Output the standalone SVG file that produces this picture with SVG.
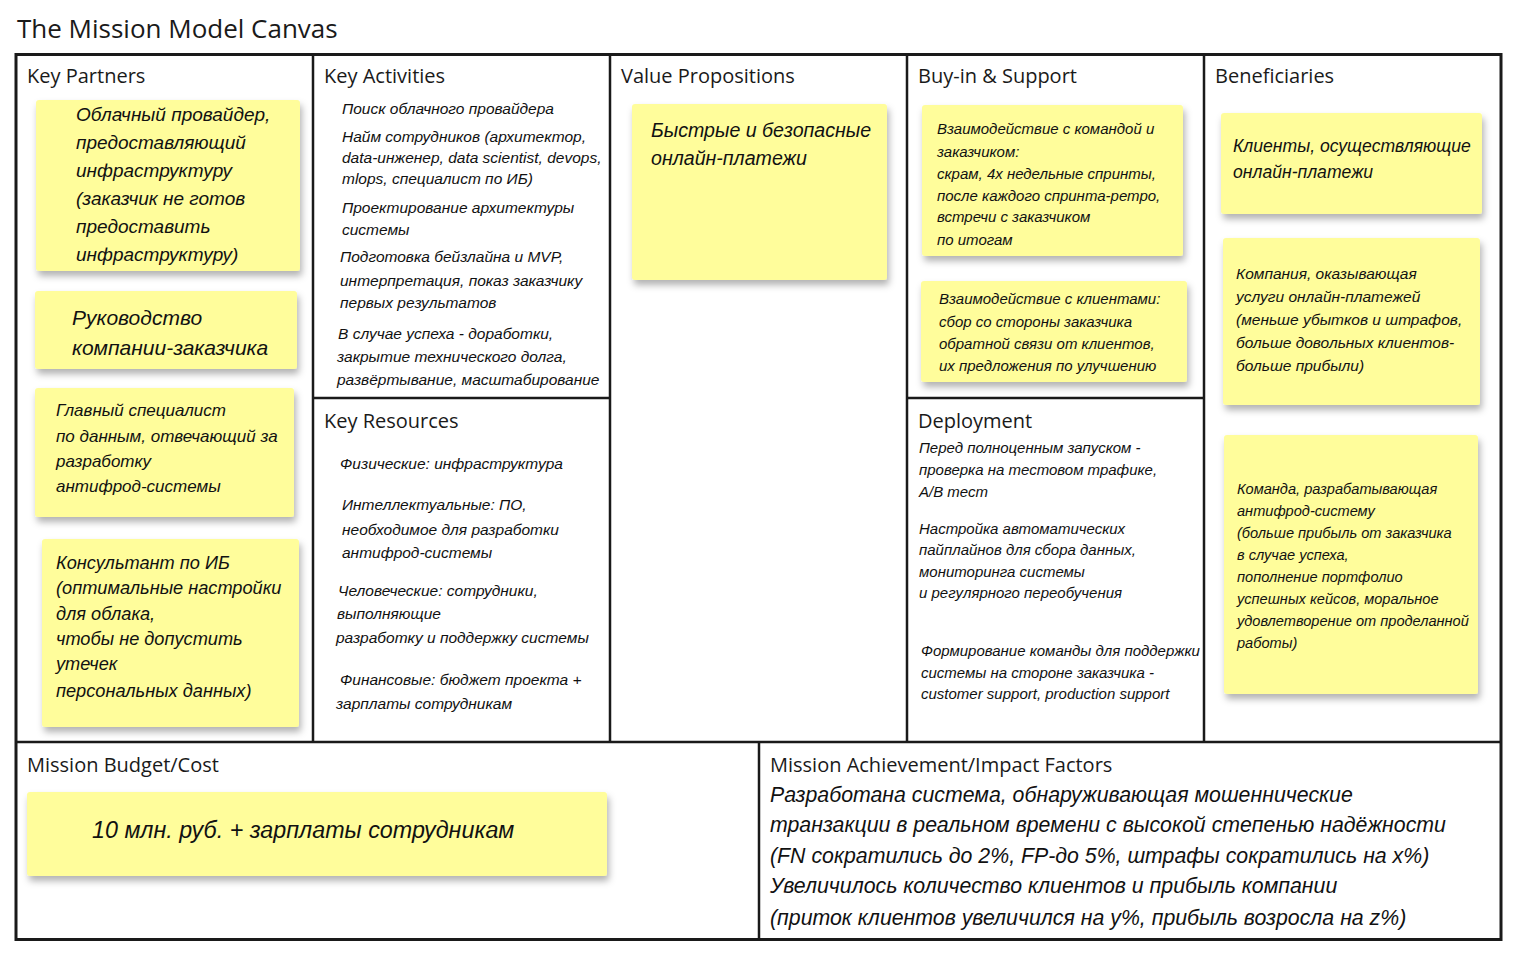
<svg xmlns="http://www.w3.org/2000/svg" width="1517" height="956" viewBox="0 0 1517 956">
<defs>
<filter id="sh" x="-10%" y="-10%" width="125%" height="130%">
<feDropShadow dx="2" dy="5" stdDeviation="3.5" flood-color="#000" flood-opacity="0.3"/>
</filter>
<style>
.bg{fill:#fff}
.frame{fill:none;stroke:#1a1a1a;stroke-width:3}
.div{stroke:#1a1a1a;stroke-width:2.5}
.title{font-family:"Open Sans","Noto Sans",sans-serif;font-size:26px;fill:#1a1a1a}
.hd{font-family:"Open Sans","Noto Sans",sans-serif;font-size:20px;fill:#1a1a1a}
.note{fill:#fffd9b;filter:url(#sh)}
.hw{font-family:"Liberation Sans",Arial,sans-serif;font-style:italic;fill:#111}
.s21{font-size:21px}
.s19{font-size:19px}
.s20{font-size:19.6px}
.s18{font-size:18.2px}
.s17{font-size:17px}
.s176{font-size:17.6px}
.s16{font-size:15.5px}
.s15{font-size:15px}
.s146{font-size:14.6px}
.s24{font-size:23.3px}
</style>
</defs>
<rect class="bg" x="0" y="0" width="1517" height="956"/>
<text class="title" x="17" y="38">The Mission Model Canvas</text>

<g id="grid">
<rect class="frame" x="16" y="54.5" width="1485" height="885"/>
<line class="div" x1="313" y1="54" x2="313" y2="742"/>
<line class="div" x1="610" y1="54" x2="610" y2="742"/>
<line class="div" x1="907" y1="54" x2="907" y2="742"/>
<line class="div" x1="1204" y1="54" x2="1204" y2="742"/>
<line class="div" x1="313" y1="398" x2="610" y2="398"/>
<line class="div" x1="907" y1="398" x2="1204" y2="398"/>
<line class="div" x1="16" y1="742" x2="1501" y2="742"/>
<line class="div" x1="759" y1="742" x2="759" y2="940"/>
</g>

<g id="headers">
<text class="hd" x="27" y="83">Key Partners</text>
<text class="hd" x="324" y="83">Key Activities</text>
<text class="hd" x="621" y="83">Value Propositions</text>
<text class="hd" x="918" y="83">Buy-in &amp; Support</text>
<text class="hd" x="1215" y="83">Beneficiaries</text>
<text class="hd" x="324" y="428">Key Resources</text>
<text class="hd" x="918" y="428">Deployment</text>
<text class="hd" x="27" y="772">Mission Budget/Cost</text>
<text class="hd" x="770" y="772">Mission Achievement/Impact Factors</text>
</g>

<g id="kp-1">
<rect class="note" x="36" y="100" width="264" height="171" rx="3"/>
<text class="hw s19"><tspan x="76" y="121">Облачный провайдер,</tspan><tspan x="76" y="149">предоставляющий</tspan><tspan x="76" y="177">инфраструктуру</tspan><tspan x="76" y="205">(заказчик не готов</tspan><tspan x="76" y="233">предоставить</tspan><tspan x="76" y="261">инфраструктуру)</tspan></text>
</g>
<g id="kp-2">
<rect class="note" x="35" y="291" width="262" height="78" rx="3"/>
<text class="hw s21"><tspan x="72" y="325">Руководство</tspan><tspan x="72" y="355">компании-заказчика</tspan></text>
</g>
<g id="kp-3">
<rect class="note" x="35" y="388" width="259" height="129" rx="3"/>
<text class="hw s17"><tspan x="56" y="416">Главный специалист</tspan><tspan x="56" y="442">по данным, отвечающий за</tspan><tspan x="56" y="467">разработку</tspan><tspan x="56" y="492">антифрод-системы</tspan></text>
</g>
<g id="kp-4">
<rect class="note" x="42" y="539" width="257" height="188" rx="3"/>
<text class="hw s18"><tspan x="56" y="569">Консультант по ИБ</tspan><tspan x="56" y="594">(оптимальные настройки</tspan><tspan x="56" y="620">для облака,</tspan><tspan x="56" y="645">чтобы не допустить</tspan><tspan x="56" y="670">утечек</tspan><tspan x="56" y="697">персональных данных)</tspan></text>
</g>

<g id="key-activities">
<text class="hw s16"><tspan x="342" y="114">Поиск облачного провайдера</tspan><tspan x="342" y="142">Найм сотрудников (архитектор,</tspan><tspan x="342" y="163">data-инженер, data scientist, devops,</tspan><tspan x="342" y="184">mlops, специалист по ИБ)</tspan><tspan x="342" y="213">Проектирование архитектуры</tspan><tspan x="342" y="235">системы</tspan><tspan x="340" y="262">Подготовка бейзлайна и MVP,</tspan><tspan x="340" y="286">интерпретация, показ заказчику</tspan><tspan x="340" y="308">первых результатов</tspan><tspan x="338" y="339">В случае успеха - доработки,</tspan><tspan x="337" y="362">закрытие технического долга,</tspan><tspan x="337" y="385">развёртывание, масштабирование</tspan></text>
</g>

<g id="key-resources">
<text class="hw s16"><tspan x="340" y="469">Физические: инфраструктура</tspan><tspan x="342" y="510">Интеллектуальные: ПО,</tspan><tspan x="342" y="535">необходимое для разработки</tspan><tspan x="342" y="558">антифрод-системы</tspan><tspan x="338" y="596">Человеческие: сотрудники,</tspan><tspan x="337" y="619">выполняющие</tspan><tspan x="336" y="643">разработку и поддержку системы</tspan><tspan x="340" y="685">Финансовые: бюджет проекта +</tspan><tspan x="336" y="709">зарплаты сотрудникам</tspan></text>
</g>

<g id="vp-1">
<rect class="note" x="632" y="104" width="255" height="176" rx="3"/>
<text class="hw s20"><tspan x="651" y="137">Быстрые и безопасные</tspan><tspan x="651" y="165">онлайн-платежи</tspan></text>
</g>

<g id="bs-1">
<rect class="note" x="922" y="105" width="261" height="151" rx="3"/>
<text class="hw s15"><tspan x="937" y="134">Взаимодействие с командой и</tspan><tspan x="937" y="157">заказчиком:</tspan><tspan x="937" y="179">скрам, 4х недельные спринты,</tspan><tspan x="937" y="201">после каждого спринта-ретро,</tspan><tspan x="937" y="222">встречи с заказчиком</tspan><tspan x="937" y="245">по итогам</tspan></text>
</g>
<g id="bs-2">
<rect class="note" x="921" y="281" width="266" height="101" rx="3"/>
<text class="hw s15"><tspan x="939" y="304">Взаимодействие с клиентами:</tspan><tspan x="939" y="327">сбор со стороны заказчика</tspan><tspan x="939" y="349">обратной связи от клиентов,</tspan><tspan x="939" y="371">их предложения по улучшению</tspan></text>
</g>

<g id="deployment">
<text class="hw s15"><tspan x="919" y="453">Перед полноценным запуском -</tspan><tspan x="919" y="475">проверка на тестовом трафике,</tspan><tspan x="919" y="497">A/B тест</tspan><tspan x="919" y="534">Настройка автоматических</tspan><tspan x="919" y="555">пайплайнов для сбора данных,</tspan><tspan x="919" y="577">мониторинга системы</tspan><tspan x="919" y="598">и регулярного переобучения</tspan><tspan x="921" y="656">Формирование команды для поддержки</tspan><tspan x="921" y="678">системы на стороне заказчика -</tspan><tspan x="921" y="699">customer support, production support</tspan></text>
</g>

<g id="ben-1">
<rect class="note" x="1221" y="113" width="261" height="101" rx="3"/>
<text class="hw s176"><tspan x="1233" y="152">Клиенты, осуществляющие</tspan><tspan x="1233" y="178">онлайн-платежи</tspan></text>
</g>
<g id="ben-2">
<rect class="note" x="1223" y="238" width="257" height="167" rx="3"/>
<text class="hw s16"><tspan x="1236" y="279">Компания, оказывающая</tspan><tspan x="1236" y="302">услуги онлайн-платежей</tspan><tspan x="1236" y="325">(меньше убытков и штрафов,</tspan><tspan x="1236" y="348">больше довольных клиентов-</tspan><tspan x="1236" y="371">больше прибыли)</tspan></text>
</g>
<g id="ben-3">
<rect class="note" x="1224" y="435" width="254" height="259" rx="3"/>
<text class="hw s146"><tspan x="1237" y="494">Команда, разрабатывающая</tspan><tspan x="1237" y="516">антифрод-систему</tspan><tspan x="1237" y="538">(больше прибыль от заказчика</tspan><tspan x="1237" y="560">в случае успеха,</tspan><tspan x="1237" y="582">пополнение портфолио</tspan><tspan x="1237" y="604">успешных кейсов, моральное</tspan><tspan x="1237" y="626">удовлетворение от проделанной</tspan><tspan x="1237" y="648">работы)</tspan></text>
</g>

<g id="budget-1">
<rect class="note" x="27" y="792" width="580" height="84" rx="3"/>
<text class="hw s24" x="92" y="838">10 млн. руб. + зарплаты сотрудникам</text>
</g>

<g id="impact">
<text class="hw" style="font-size:21.3px"><tspan x="770" y="802">Разработана система, обнаруживающая мошеннические</tspan><tspan x="770" y="832">транзакции в реальном времени с высокой степенью надёжности</tspan><tspan x="770" y="863">(FN сократились до 2%, FP-до 5%, штрафы сократились на x%)</tspan><tspan x="770" y="893">Увеличилось количество клиентов и прибыль компании</tspan><tspan x="770" y="925">(приток клиентов увеличился на y%, прибыль возросла на z%)</tspan></text>
</g>
</svg>
